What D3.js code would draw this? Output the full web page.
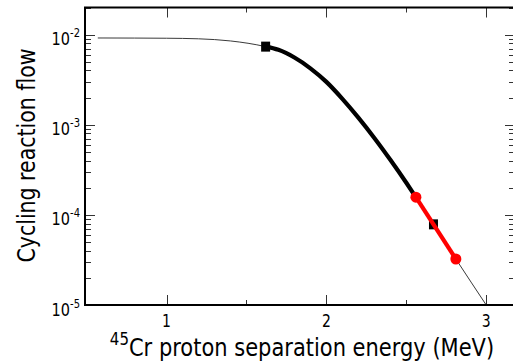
<!DOCTYPE html>
<html>
<head>
<meta charset="utf-8">
<script src="https://cdn.jsdelivr.net/npm/d3@7"></script>
<style>
  body { margin: 0; background: #fff; }
  text { font-family: "DejaVu Sans", sans-serif; fill: #000; }
</style>
</head>
<body>
<div id="chart"></div>
<script>
// curve of cycling flow vs 45Cr proton separation energy
var energy = [0.57, 0.8, 1.0, 1.2, 1.4, 1.62, 1.7, 1.8, 1.9, 2.0, 2.1, 2.2, 2.3, 2.4, 2.5, 2.56, 2.67, 2.81, 3.0, 3.1];
var flow = [9.18e-3, 9.16e-3, 9.12e-3, 8.99e-3, 8.51e-3, 7.36e-3, 6.78e-3, 5.57e-3, 4.23e-3, 2.99e-3, 1.94e-3, 1.2e-3, 7.13e-4, 4.08e-4, 2.27e-4, 1.57e-4, 7.85e-5, 3.24e-5, 1.0e-5, 5.4e-6];
// black squares
var squareE = [1.62, 2.67];
var squareF = [7.36e-3, 7.85e-5];
// red circles
var redE = [2.56, 2.81];
var redF = [1.57e-4, 3.24e-5];
var xTicks = [1, 2, 3];
var xMinor = [1.5, 2.5];
var yDecades = [-5, -4, -3, -2];

var W = 513, H = 364;
var pLeft = 85, pRight = 515, pTop = 7.5, pBottom = 305;
var sy = 1.22; // text looks vertically stretched

var svg = d3.select("#chart").append("svg")
  .attr("width", W).attr("height", H);

var x = d3.scaleLinear().domain([0.49, 3.18]).range([pLeft, pRight]);
var y = d3.scaleLog().domain([1e-5, 0.02]).range([pBottom, pTop]);

svg.append("clipPath").attr("id", "clip")
  .append("rect").attr("x", pLeft).attr("y", pTop)
  .attr("width", pRight - pLeft).attr("height", pBottom - pTop);

var pts = energy.map(function(e, i) { return [e, flow[i]]; });
var line = d3.line()
  .x(function(d) { return x(d[0]); })
  .y(function(d) { return y(d[1]); })
  .curve(d3.curveMonotoneX);

var plot = svg.append("g").attr("clip-path", "url(#clip)");

// thin full curve
plot.append("path").datum(pts)
  .attr("d", line).attr("fill", "none")
  .attr("stroke", "#222").attr("stroke-width", 0.9);

// thick black part
plot.append("path")
  .datum(pts.filter(function(d) { return d[0] >= squareE[0] && d[0] <= redE[0]; }))
  .attr("d", line).attr("fill", "none")
  .attr("stroke", "#000").attr("stroke-width", 4.2);

// squares
plot.selectAll("rect.sq").data(squareE).enter().append("rect")
  .attr("class", "sq")
  .attr("x", function(d) { return x(d) - 4.5; })
  .attr("y", function(d, i) { return y(squareF[i]) - 5; })
  .attr("width", 9).attr("height", 10)
  .attr("fill", "#000");

// red segment
var redPts = redE.map(function(e, i) { return [e, redF[i]]; });
plot.append("path").datum(redPts)
  .attr("d", d3.line().x(function(d) { return x(d[0]); }).y(function(d) { return y(d[1]); }))
  .attr("fill", "none").attr("stroke", "#f00").attr("stroke-width", 4.2);
plot.selectAll("circle.rd").data(redPts).enter().append("circle")
  .attr("class", "rd")
  .attr("cx", function(d) { return x(d[0]); })
  .attr("cy", function(d) { return y(d[1]); })
  .attr("r", 5.5).attr("fill", "#f00");

// ticks (inward, all four sides)
var tk = svg.append("g").attr("stroke", "#333").attr("stroke-width", 1);
xTicks.concat(xMinor).forEach(function(v) {
  var len = xTicks.indexOf(v) >= 0 ? 10 : 5;
  var px = Math.round(x(v)) + 0.5;
  tk.append("line").attr("x1", px).attr("x2", px).attr("y1", pBottom).attr("y2", pBottom - len);
  tk.append("line").attr("x1", px).attr("x2", px).attr("y1", pTop).attr("y2", pTop + len);
});
yDecades.forEach(function(k) {
  for (var m = 1; m <= 9; m++) {
    var v = m * Math.pow(10, k);
    if (v > 0.02) continue;
    var len = m === 1 ? 10 : 6;
    var py = Math.round(y(v)) + 0.5;
    tk.append("line").attr("x1", pLeft).attr("x2", pLeft + len).attr("y1", py).attr("y2", py);
    tk.append("line").attr("x1", pRight).attr("x2", pRight - len).attr("y1", py).attr("y2", py);
  }
});

// frame
svg.append("rect").attr("x", pLeft).attr("y", pTop)
  .attr("width", pRight - pLeft).attr("height", pBottom - pTop)
  .attr("fill", "none").attr("stroke", "#000").attr("stroke-width", 2);

function stretched(px, py, rot) {
  return svg.append("g")
    .attr("transform", "translate(" + px + "," + py + ")" + (rot ? " rotate(" + rot + ")" : "") + " scale(1," + sy + ")");
}

// x tick labels
xTicks.forEach(function(v) {
  stretched(x(v), 326.5).append("text")
    .attr("text-anchor", "middle").attr("font-size", 14).text(v);
});

// y tick labels 10^k
yDecades.forEach(function(k) {
  var t = stretched(80, y(Math.pow(10, k)) + 10.5).append("text")
    .attr("text-anchor", "end").attr("font-size", 14.5);
  t.append("tspan").text("10");
  t.append("tspan").attr("font-size", 10).attr("dy", -6.5).text("-" + (-k));
});

// axis labels
var xl = stretched(302, 356).append("text")
  .attr("text-anchor", "middle").attr("font-size", 21);
xl.append("tspan").attr("font-size", 15).attr("dy", -9).text("45");
xl.append("tspan").attr("dy", 9).text("Cr proton separation energy (MeV)");

stretched(35, 155.5, -90).append("text")
  .attr("text-anchor", "middle").attr("font-size", 20.5)
  .text("Cycling reaction flow");
</script>
</body>
</html>
